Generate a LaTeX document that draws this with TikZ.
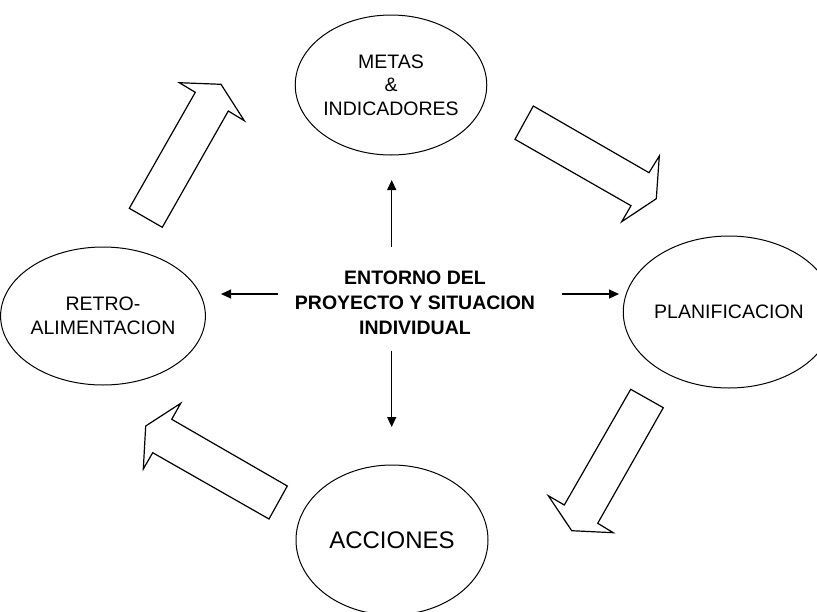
\documentclass[tikz,border=0pt]{standalone}
\usepackage{fontspec}
\setmainfont{Liberation Sans}
\usetikzlibrary{shapes.geometric,arrows.meta}
\begin{document}
\begin{tikzpicture}[x=1pt,y=-1pt,
  stage/.style={draw,ellipse,line width=1pt,inner sep=0pt,align=center,
    font=\fontsize{19.5}{23.5}\selectfont},
  blockarrow/.style={draw,line width=1.2pt,line join=miter,fill=white},
  pointer/.style={line width=1.2pt,-{Triangle[length=10pt,width=9pt]}}]
\clip (0,0) rectangle (817,611);

% the four stages of the cycle
\node[stage,minimum width=190pt,minimum height=140pt] (metas) at (391,85)
  {METAS\\\&\\INDICADORES};
\node[stage,minimum width=184pt,minimum height=152pt] (plan) at (729,312)
  {PLANIFICACION};
\node[stage,minimum width=192pt,minimum height=150pt,
  font=\fontsize{24}{28}\selectfont] (acc) at (392,540) {ACCIONES};
\node[stage,minimum width=190pt,minimum height=138pt] (retro) at (103,316)
  {RETRO-\\ALIMENTACION};

% centre text
\node[align=center,font=\bfseries\fontsize{19.5}{25}\selectfont] (core) at (415,303)
  {ENTORNO DEL\\PROYECTO Y SITUACION\\INDIVIDUAL};

% thin arrows radiating from the centre
\coordinate (upA) at (391.7,246.7); \coordinate (upB) at (391.7,180);
\coordinate (dnA) at (391.7,351);   \coordinate (dnB) at (391.7,427);
\coordinate (ltA) at (278,294);     \coordinate (ltB) at (221,294);
\coordinate (rtA) at (561.7,294);   \coordinate (rtB) at (619,294);
\draw[pointer] (upA) -- (upB);
\draw[pointer] (dnA) -- (dnB);
\draw[pointer] (ltA) -- (ltB);
\draw[pointer] (rtA) -- (rtB);

% hollow block arrows between the stages
\draw[blockarrow] (129.3,208.3) -- (162.3,227.3) -- (228.3,111) -- (244.3,120.7)
  -- (221,84.3) -- (179.3,82.7) -- (195.3,92.3) -- cycle;
\draw[blockarrow] (533.3,106) -- (649,172.7) -- (659.3,156) -- (656.3,198.7)
  -- (621.7,221.7) -- (631,205.7) -- (515,139.3) -- cycle;
\draw[blockarrow] (630.7,389.3) -- (663.3,407.7) -- (597.7,523.3) -- (613.3,532.7)
  -- (571.7,530.7) -- (548.3,495.7) -- (564.3,505) -- cycle;
\draw[blockarrow] (287.3,486) -- (269,519) -- (152.7,452.7) -- (143.3,469)
  -- (145.7,426) -- (180.7,403.3) -- (171.7,419.3) -- cycle;
\end{tikzpicture}
\end{document}
